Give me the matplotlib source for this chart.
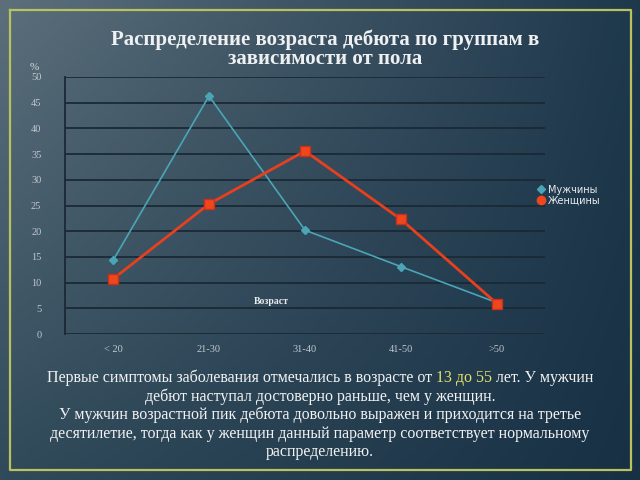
import matplotlib.pyplot as plt
import numpy as np
from matplotlib.lines import Line2D

# данные графика
vozrast = ['< 20', '21-30', '31-40', '41-50', '>50']
muzhchiny = [14.3, 46.3, 20.2, 13.1, 6.1]
zhenshchiny = [10.7, 25.3, 35.6, 22.3, 5.9]
y_ticks = [0, 5, 10, 15, 20, 25, 30, 35, 40, 45, 50]

serif = ['Liberation Serif', 'DejaVu Serif']

fig = plt.figure(figsize=(6.4, 4.8), dpi=100)

# фон с градиентом
bg = fig.add_axes([0, 0, 1, 1], zorder=-10)
tl = np.array([0x5c, 0x6f, 0x7b]) / 255
tr = np.array([0x1e, 0x38, 0x4c]) / 255
bl = np.array([0x30, 0x4a, 0x5a]) / 255
br = np.array([0x17, 0x30, 0x44]) / 255
u = np.linspace(0, 1, 200)[None, :, None]
v = np.linspace(0, 1, 150)[:, None, None]
img = (1 - v) * ((1 - u) * tl + u * tr) + v * ((1 - u) * bl + u * br)
bg.imshow(img, aspect='auto', extent=[0, 1, 0, 1], origin='upper')
bg.set_xlim(0, 1)
bg.set_ylim(0, 1)
bg.axis('off')
# рамка
bg.plot([10/640, 631/640, 631/640, 10/640, 10/640],
        [1-10/480, 1-10/480, 1-470/480, 1-470/480, 1-10/480],
        color='#b9c25e', lw=1.6)

ax = fig.add_axes([65/640, 1-334/480, 480/640, 257/480])
ax.set_facecolor('none')
x = np.arange(len(vozrast))
ax.plot(x, muzhchiny, color='#4aa6b6', lw=1.2, marker='D', ms=4,
        mfc='#4aa6b6', mec='#4aa6b6', zorder=3)
ax.plot(x, zhenshchiny, color='#e8401e', lw=2, marker='s', ms=7,
        mfc='#f0461e', mec='#c8301a', zorder=4)

ax.set_xlim(-0.5, 4.5)
ax.set_ylim(0, 50)
ax.set_yticks(y_ticks)
ax.set_xticks(x)
ax.set_xticklabels(vozrast)
ax.yaxis.grid(True, color='#1a2935', lw=1.3)
ax.set_axisbelow(True)
for s in ['top', 'right', 'bottom']:
    ax.spines[s].set_visible(False)
ax.spines['left'].set_color('#1a2935')
ax.spines['left'].set_linewidth(1.3)
ax.tick_params(length=0, colors='#c0c8d0', labelsize=7.5, pad=8)
ax.tick_params(axis='y', pad=17)
for lb in ax.get_xticklabels() + ax.get_yticklabels():
    lb.set_fontfamily(serif)

ax.text(1.65, 6.3, 'Возраст', color='#e8ecef', fontsize=7, fontweight='bold',
        fontfamily=serif, ha='center', va='center')
fig.text(34/640, 1-68/480, '%', color='#d8dde2', fontsize=8,
         fontfamily=serif, ha='center', va='center')

handles = [Line2D([], [], color='#4aa6b6', marker='D', ms=4, lw=0),
           Line2D([], [], color='#f0461e', marker='o', ms=6, lw=0)]
leg = fig.legend(handles, ['Мужчины', 'Женщины'], loc='center left',
                 bbox_to_anchor=(532/640, 1-195/480), frameon=False,
                 fontsize=7, labelcolor='#e8ecef', handlelength=0.8,
                 handletextpad=0.3, labelspacing=0.1, borderpad=0)

fig.text(325/640, 1-49/480, 'Распределение возраста дебюта по группам в\nзависимости от пола',
         color='#eef0f2', fontsize=15, fontweight='bold', fontfamily=serif,
         ha='center', va='center', linespacing=0.95)

# пояснительный текст
ty = 1 - 378/480
fs = 11.5
col = '#f2f2f2'
p1 = 'Первые симптомы заболевания отмечались в возрасте от '
p2 = '13 до 55'
p3 = ' лет. У мужчин'
t1 = fig.text(320/640, ty, p1 + p2 + p3, fontsize=fs,
              fontfamily=serif, ha='center', va='center')
fig.canvas.draw()
r = fig.canvas.get_renderer()
xa = t1.get_window_extent(r).x0
t1.remove()
for part, c in [(p1, col), (p2, '#e2e06a'), (p3, col)]:
    tt = fig.text(xa / 640, ty, part, color=c, fontsize=fs, fontfamily=serif,
                  ha='left', va='center')
    xa += tt.get_window_extent(r).width

rest = ['дебют наступал достоверно раньше, чем у женщин.',
        'У мужчин возрастной пик дебюта довольно выражен и приходится на третье',
        'десятилетие, тогда как у женщин данный параметр соответствует нормальному',
        'распределению.']
for i, line in enumerate(rest):
    fig.text(320/640, ty - (i + 1) * 18.5/480, line, color=col, fontsize=fs,
             fontfamily=serif, ha='center', va='center')

fig.savefig('out.png', dpi=100)
